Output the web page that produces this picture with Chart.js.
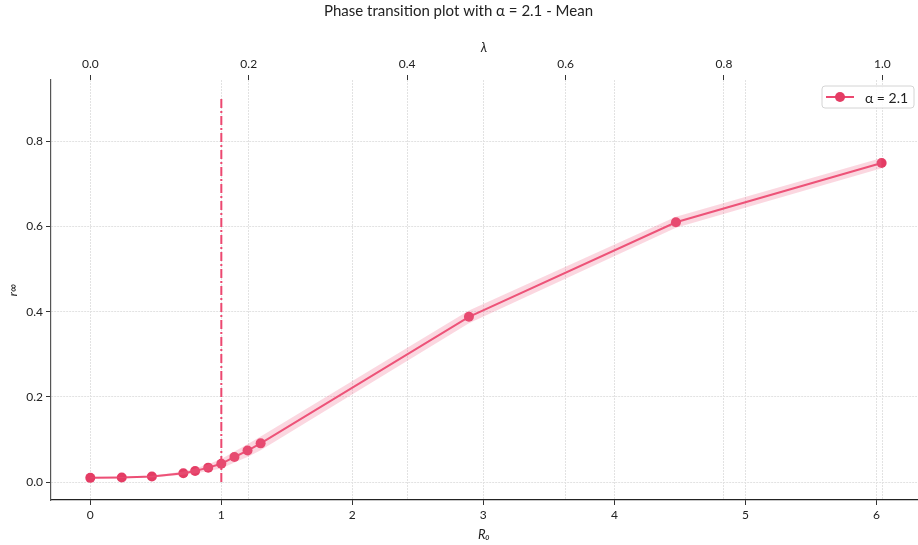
<!DOCTYPE html>
<html>
<head>
<meta charset="utf-8">
<script src="https://cdn.jsdelivr.net/npm/chart.js@4/dist/chart.umd.min.js"></script>
<style>
  html, body { margin: 0; padding: 0; background: #fff; }
  .chart-container { width: 918px; height: 545px; position: relative; }
</style>
</head>
<body>
<div class="chart-container"><canvas id="phaseChart"></canvas></div>
<script>
// values
const r0Values = [0, 0.24, 0.47, 0.71, 0.8, 0.9, 1.0, 1.1, 1.2, 1.3, 2.89, 4.47, 6.04];
const rInfMean = [0.010, 0.011, 0.013, 0.021, 0.026, 0.034, 0.043, 0.059, 0.074, 0.091, 0.388, 0.610, 0.749];
const rInfLower = [0.009, 0.010, 0.011, 0.017, 0.020, 0.026, 0.032, 0.046, 0.059, 0.075, 0.373, 0.597, 0.737];
const rInfUpper = [0.011, 0.012, 0.015, 0.025, 0.032, 0.042, 0.054, 0.072, 0.089, 0.107, 0.403, 0.623, 0.761];
const thresholdR0 = 1;
const thresholdTop = 0.9;
const seriesLabel = 'α = 2.1';

// axis ranges (R0 on the bottom, lambda on top, lambda = R0 / r0PerLambda)
const xRange = { min: -0.3, max: 6.31 };
const yRange = { min: -0.042, max: 0.944 };
const r0PerLambda = 6.046;

const pink = 'rgb(236, 72, 112)';
const pinkDot = 'rgb(228, 60, 100)';
const bandColor = 'rgba(240, 110, 145, 0.28)';
const gridColor = '#e2e2e2';
const fontFamily = 'Lato, "Open Sans", sans-serif';

Chart.defaults.font.family = fontFamily;
Chart.defaults.color = '#222';

function toPoints(xs, ys) {
    return xs.map((x, i) => ({ x: x, y: ys[i] }));
}

// matplotlib-like legend box drawn on top of the plot
const legendBox = {
    id: 'legendBox',
    afterDraw(chart) {
        const ctx = chart.ctx;
        const area = chart.chartArea;
        const w = 92, h = 22;
        const x = area.right - w - 3, y = area.top + 6;
        ctx.save();
        ctx.beginPath();
        ctx.roundRect(x, y, w, h, 3);
        ctx.fillStyle = 'rgba(255,255,255,0.85)';
        ctx.fill();
        ctx.strokeStyle = '#d4d4d4';
        ctx.lineWidth = 1;
        ctx.stroke();
        const cy = y + h / 2;
        ctx.beginPath();
        ctx.moveTo(x + 4, cy);
        ctx.lineTo(x + 32, cy);
        ctx.strokeStyle = pink;
        ctx.lineWidth = 2;
        ctx.stroke();
        ctx.beginPath();
        ctx.arc(x + 18, cy, 5, 0, Math.PI * 2);
        ctx.fillStyle = pinkDot;
        ctx.fill();
        ctx.fillStyle = '#222';
        ctx.font = '14px ' + fontFamily;
        ctx.textBaseline = 'middle';
        ctx.fillText(seriesLabel, x + 43, cy + 1);
        ctx.restore();
    }
};

function createChart() {
    const ctx = document.getElementById('phaseChart').getContext('2d');
    return new Chart(ctx, {
        type: 'line',
        data: {
            datasets: [
                {
                    label: 'lower',
                    data: toPoints(r0Values, rInfLower),
                    borderWidth: 0,
                    pointRadius: 0,
                    fill: false,
                    tension: 0
                },
                {
                    label: 'upper',
                    data: toPoints(r0Values, rInfUpper),
                    borderWidth: 0,
                    pointRadius: 0,
                    backgroundColor: bandColor,
                    fill: '-1',
                    tension: 0
                },
                {
                    label: seriesLabel,
                    data: toPoints(r0Values, rInfMean),
                    borderColor: pink,
                    borderWidth: 2,
                    backgroundColor: pinkDot,
                    pointBackgroundColor: pinkDot,
                    pointBorderWidth: 0,
                    pointRadius: 5,
                    fill: false,
                    tension: 0
                },
                {
                    label: 'threshold',
                    data: [{ x: thresholdR0, y: 0 }, { x: thresholdR0, y: thresholdTop }],
                    borderColor: pink,
                    borderWidth: 2,
                    borderDash: [9, 3, 2, 3],
                    pointRadius: 0,
                    fill: false
                }
            ]
        },
        options: {
            responsive: true,
            maintainAspectRatio: false,
            animation: false,
            layout: { autoPadding: false, padding: { left: 0, right: 1, top: 0, bottom: 0 } },
            plugins: {
                legend: { display: false },
                tooltip: { enabled: false },
                title: {
                    display: true,
                    text: 'Phase transition plot with α = 2.1 - Mean',
                    color: '#222',
                    font: { size: 15, weight: 'normal' },
                    padding: { top: 2, bottom: 0 }
                }
            },
            scales: {
                x: {
                    type: 'linear',
                    position: 'bottom',
                    min: xRange.min,
                    max: xRange.max,
                    afterFit: scale => { scale.height = 45; },
                    ticks: { stepSize: 1, includeBounds: false, padding: 3, font: { size: 12 }, color: '#222' },
                    grid: { color: gridColor, tickColor: '#333', tickLength: 5 },
                    border: { display: true, color: '#222', width: 1.2, dash: [2, 1] },
                    title: { display: true, text: 'R₀', font: { size: 13, style: 'italic' }, padding: { top: 0, bottom: 2 } }
                },
                x2: {
                    type: 'linear',
                    position: 'top',
                    min: xRange.min / r0PerLambda,
                    max: xRange.max / r0PerLambda,
                    afterFit: scale => { scale.height = 60; },
                    ticks: {
                        stepSize: 0.2,
                        includeBounds: false,
                        padding: 4,
                        font: { size: 12 },
                        color: '#222',
                        callback: v => v.toFixed(1)
                    },
                    grid: { color: gridColor, tickColor: '#333', tickLength: 5 },
                    border: { display: false, dash: [2, 1] },
                    title: { display: true, text: 'λ', font: { size: 13, style: 'italic' }, padding: { top: 20, bottom: 0 } }
                },
                y: {
                    type: 'linear',
                    min: yRange.min,
                    max: yRange.max,
                    afterFit: scale => { scale.width = 51; },
                    ticks: {
                        stepSize: 0.2,
                        includeBounds: false,
                        padding: 3,
                        font: { size: 12 },
                        color: '#222',
                        callback: v => v.toFixed(1)
                    },
                    grid: { color: gridColor, tickColor: '#333', tickLength: 5 },
                    border: { display: true, color: '#555', width: 1.2, dash: [2, 1] },
                    title: { display: true, text: 'r∞', font: { size: 12, style: 'italic' }, padding: { top: 6, bottom: 0 } }
                }
            }
        },
        plugins: [legendBox]
    });
}

createChart();
</script>
</body>
</html>
